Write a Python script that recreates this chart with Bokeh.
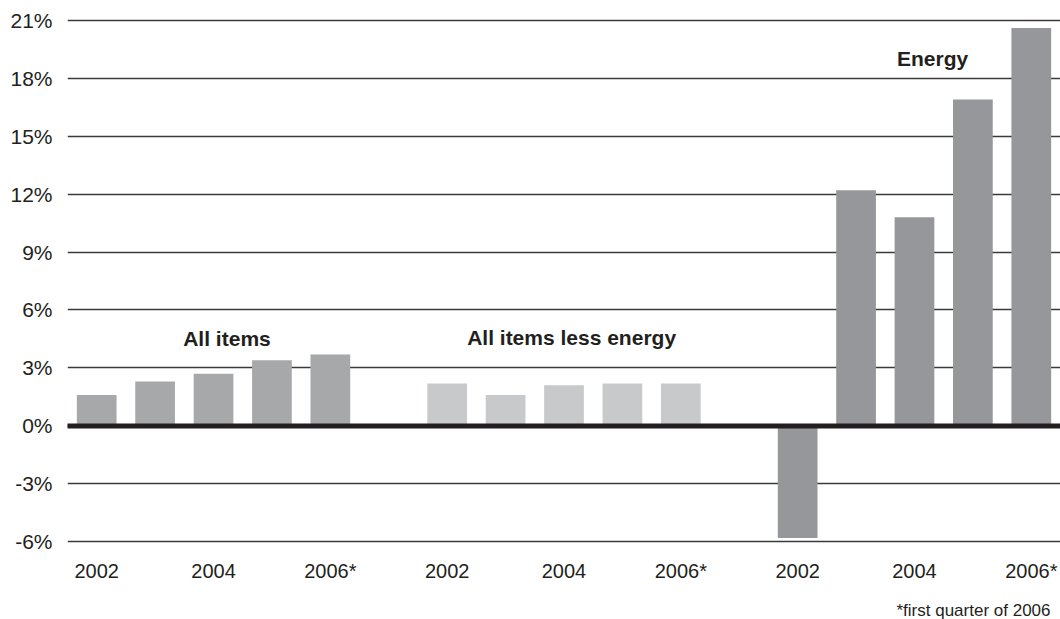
from bokeh.plotting import figure
from bokeh.models import ColumnDataSource, FixedTicker, Span, Label, Range1d, LinearAxis, Title
from bokeh.embed import file_html
from bokeh.resources import INLINE

# ---- data ----
years = ["2002", "2003", "2004", "2005", "2006*"]
groups = ["All items", "All items less energy", "Energy"]
all_items = [1.6, 2.3, 2.7, 3.4, 3.7]
less_energy = [2.2, 1.6, 2.1, 2.2, 2.2]
energy = [-5.8, 12.2, 10.8, 16.9, 20.6]
y_ticks = [-6, -3, 0, 3, 6, 9, 12, 15, 18, 21]
x_tick_labels = ["2002", "2004", "2006*"]
footnote = "*first quarter of 2006"

series = [all_items, less_energy, energy]
colors = ["#a7a8aa", "#c8c9cb", "#96979a"]

xs, tops, fills = [], [], []
for g, vals in enumerate(series):
    for i, v in enumerate(vals):
        xs.append(g * 6 + i)
        tops.append(v)
        fills.append(colors[g])
src = ColumnDataSource(dict(x=xs, top=tops, color=fills))

FONT = "Liberation Sans"
TXT = "#231f20"

p = figure(width=1060, height=619, output_backend="svg", toolbar_location=None,
           x_range=Range1d(-0.5, 16.5), y_range=Range1d(-6.5, 21.5),
           min_border_left=67, min_border_right=0, min_border_top=10, min_border_bottom=67,
           outline_line_color=None, x_axis_location=None, y_axis_location=None)
p.background_fill_color = "white"
p.border_fill_color = "white"

# y axis (labels only)
yax = LinearAxis(ticker=FixedTicker(ticks=y_ticks),
                 major_label_overrides={t: f"{t}%" for t in y_ticks})
yax.axis_line_color = None
yax.major_tick_line_color = None
yax.minor_tick_line_color = None
yax.major_tick_out = 0
yax.major_tick_in = 0
yax.major_label_standoff = 15
yax.major_label_text_font = FONT
yax.major_label_text_font_size = "21px"
yax.major_label_text_color = TXT
p.add_layout(yax, "left")

# x axis (labels only); an empty axis label adds room so the footnote sits lower
xt = [g * 6 + i for g in range(3) for i in (0, 2, 4)]
xax = LinearAxis(ticker=FixedTicker(ticks=xt),
                 major_label_overrides={t: x_tick_labels[k % 3] for k, t in enumerate(xt)})
xax.axis_line_color = None
xax.major_tick_line_color = None
xax.minor_tick_line_color = None
xax.major_tick_out = 0
xax.major_tick_in = 0
xax.major_label_standoff = 8
xax.major_label_text_font = FONT
xax.major_label_text_font_size = "20px"
xax.major_label_text_color = TXT
xax.axis_label = " "
xax.axis_label_text_font_size = "10px"
xax.axis_label_standoff = 0
p.add_layout(xax, "below")

p.add_layout(Title(text=footnote, align="right", text_font=FONT, text_font_size="17px",
                   text_font_style="normal", text_color=TXT, standoff=0, offset=10), "below")

p.xgrid.visible = False
p.ygrid.ticker = FixedTicker(ticks=y_ticks)
p.ygrid.grid_line_color = "#3a3a3a"
p.ygrid.grid_line_width = 1.5

p.vbar(x="x", top="top", bottom=0, width=0.68, fill_color="color", line_color=None, source=src)

p.add_layout(Span(location=0, dimension="width", line_color=TXT, line_width=5, line_cap="round"))

# group labels
label_pos = [(2.23, 4.5), (8.13, 4.6), (14.31, 19.0)]
for name, (lx, ly) in zip(groups, label_pos):
    p.add_layout(Label(x=lx, y=ly, text=name, text_align="center", text_baseline="middle",
                       text_font=FONT, text_font_size="21px", text_font_style="bold",
                       text_color=TXT))

open("out.html", "w").write(file_html(p, INLINE))
